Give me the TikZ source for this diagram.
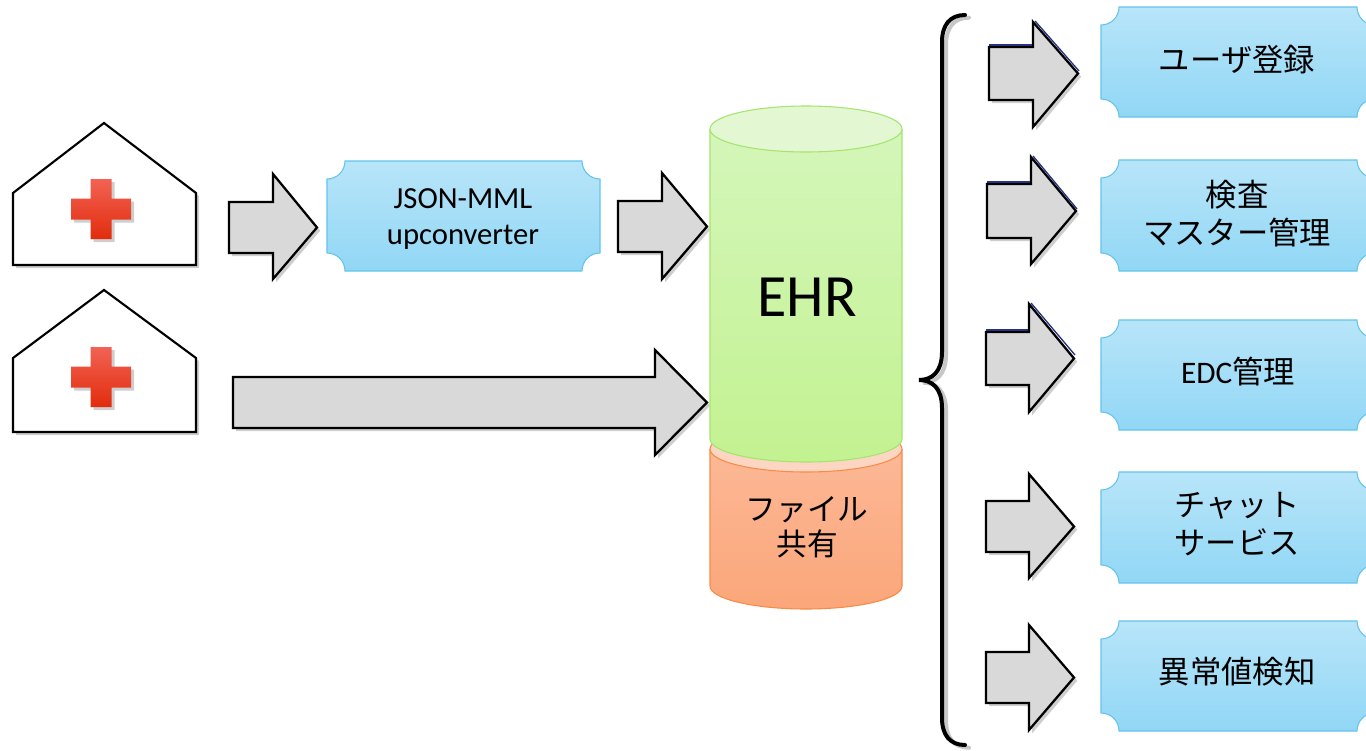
\documentclass[tikz,border=0pt]{standalone}
\usepackage{fontspec}
\setmainfont{Carlito}
\newfontfamily\jp{Noto Sans CJK JP}
\usetikzlibrary{shadows}
\definecolor{arrowgrey}{RGB}{217,217,217}
\definecolor{boxtop}{RGB}{184,229,249}
\definecolor{boxbot}{RGB}{145,215,245}
\definecolor{boxline}{RGB}{100,196,236}
\definecolor{grtop}{RGB}{227,248,210}
\definecolor{grbodyA}{RGB}{212,246,186}
\definecolor{grbodyB}{RGB}{195,242,145}
\definecolor{grline}{RGB}{165,228,110}
\definecolor{ortop}{RGB}{253,214,195}
\definecolor{orbodyA}{RGB}{252,184,150}
\definecolor{orbodyB}{RGB}{251,166,122}
\definecolor{orline}{RGB}{246,140,70}
\definecolor{crossA}{RGB}{242,98,84}
\definecolor{crossB}{RGB}{226,44,12}
\definecolor{navyedge}{RGB}{40,50,130}
\tikzset{
  sh/.style={drop shadow={shadow xshift=2.4pt,shadow yshift=-2.4pt,opacity=0.38}},
  blockarrow/.style={fill=arrowgrey,draw=black,line width=1.7pt,line join=miter,sh},
  house/.style={fill=white,draw=black,line width=1.6pt,line join=miter,sh},
  ticket/.style={top color=boxtop,bottom color=boxbot,draw=boxline,line width=0.8pt},
  jptext/.style={font=\jp\fontsize{23.5}{28.5}\selectfont,align=center,inner sep=0pt},
  navyline/.style={draw=navyedge,line width=1pt},
}
\newcommand\blockarr[7]{\path[blockarrow] (#1,#2) -- (#4,#2) -- (#4,#5) -- (#7,{(#2+#3)/2}) -- (#4,#6) -- (#4,#3) -- (#1,#3) -- cycle;}
\newcommand\ticketbox[4]{\path[ticket] (#1+18,#2) -- (#3-18,#2) .. controls (#3-18,#2+10) and (#3-10,#2+18) .. (#3,#2+18) -- (#3,#4-18) .. controls (#3-10,#4-18) and (#3-18,#4-10) .. (#3-18,#4) -- (#1+18,#4) .. controls (#1+18,#4-10) and (#1+10,#4-18) .. (#1,#4-18) -- (#1,#2+18) .. controls (#1+10,#2+18) and (#1+18,#2+10) .. (#1+18,#2) -- cycle;}
\newcommand\redcross[2]{\path[top color=crossA,bottom color=crossB,sh] (#1-10.5,#2-30) -- (#1+10.5,#2-30) -- (#1+10.5,#2-10.5) -- (#1+30,#2-10.5) -- (#1+30,#2+10.5) -- (#1+10.5,#2+10.5) -- (#1+10.5,#2+30) -- (#1-10.5,#2+30) -- (#1-10.5,#2+10.5) -- (#1-30,#2+10.5) -- (#1-30,#2-10.5) -- (#1-10.5,#2-10.5) -- cycle;}
\begin{document}
\begin{tikzpicture}[x=0.75pt,y=-0.75pt]
\fill[white] (0,0) rectangle (1366,750);
\useasboundingbox (0,0) rectangle (1366,750);
\clip (0,0) rectangle (1366,750);

% hospitals
\path[house] (13,265) -- (13,193) -- (104,123) -- (196,193) -- (196,265) -- cycle;
\redcross{101}{209}
\path[house] (13,432) -- (13,358) -- (104,290) -- (196,358) -- (196,432) -- cycle;
\redcross{101}{377}

% left arrows
\blockarr{229}{202}{253}{273}{174}{279}{317}
\blockarr{618}{201}{252}{662}{173}{279}{707}
\blockarr{233}{377}{428}{655}{350}{455}{707}

% JSON-MML box
\ticketbox{327}{161}{600}{271}
\node[font=\fontsize{23}{27.5}\selectfont,align=center,inner sep=0pt] (json) at (463,219) {JSON-MML\\upconverter};

% file sharing cylinder (behind)
\path[top color=orbodyA,bottom color=orbodyB] (710,449) -- (710,586) .. controls (710,598.7) and (753,609) .. (806,609) .. controls (859,609) and (902,598.7) .. (902,586) -- (902,449) -- cycle;
\draw[orline,line width=0.8pt] (710,449) -- (710,586) .. controls (710,598.7) and (753,609) .. (806,609) .. controls (859,609) and (902,598.7) .. (902,586) -- (902,449);
\path[fill=ortop,draw=orline,line width=0.8pt] (806,449) ellipse [x radius=96, y radius=23];

% EHR cylinder
\path[top color=grbodyA,bottom color=grbodyB] (710,129) -- (710,439) .. controls (710,451.7) and (753,462) .. (806,462) .. controls (859,462) and (902,451.7) .. (902,439) -- (902,129) -- cycle;
\draw[grline,line width=0.8pt] (710,129) -- (710,439) .. controls (710,451.7) and (753,462) .. (806,462) .. controls (859,462) and (902,451.7) .. (902,439) -- (902,129);
\path[fill=grtop,draw=grline,line width=0.8pt] (806,129) ellipse [x radius=96, y radius=23];
\node[font=\fontsize{45}{54}\selectfont,inner sep=0pt] (ehr) at (807,297) {EHR};
\node[font=\jp\fontsize{23}{26}\selectfont,align=center,inner sep=0pt] (file) at (807,527) {ファイル\\共有};

% brace
\draw[black!22,line width=3pt,line cap=round,xshift=3pt,yshift=-2pt] (965,15) .. controls (950,15) and (942,25) .. (942,42) -- (942,352) .. controls (942,372) and (932,380) .. (919,380) .. controls (932,380) and (942,388) .. (942,408) -- (942,718) .. controls (942,735) and (950,745) .. (965,745);
\draw[black,line width=3pt,line cap=round] (965,15) .. controls (950,15) and (942,25) .. (942,42) -- (942,352) .. controls (942,372) and (932,380) .. (919,380) .. controls (932,380) and (942,388) .. (942,408) -- (942,718) .. controls (942,735) and (950,745) .. (965,745);

% right arrows
\blockarr{989}{47}{100}{1033}{22}{127}{1078}
\draw[navyline] (989,45) -- (1032,45);
\draw[navyline] (1035,21) -- (1079,71);
\blockarr{987}{184}{238}{1031}{157}{264}{1076}
\draw[navyline] (987,182) -- (1030,182);
\draw[navyline] (1033,156) -- (1077,209);
\blockarr{986}{332}{385}{1029}{304}{412}{1074}
\draw[navyline] (986,330) -- (1028,330);
\draw[navyline] (1031,303) -- (1075,355);
\blockarr{986}{501}{552}{1029}{474}{578}{1074}
\blockarr{986}{652}{703}{1029}{625}{730}{1074}

% right boxes
\ticketbox{1101}{7}{1375}{117}
\ticketbox{1101}{160}{1375}{271}
\ticketbox{1101}{320}{1375}{430}
\ticketbox{1101}{472}{1375}{583}
\ticketbox{1101}{621}{1375}{731}
\node[jptext] (user) at (1237,60) {ユーザ登録};
\node[jptext] (master) at (1237,214) {検査\\マスター管理};
\node[jptext] (edc) at (1238,372) {{\rmfamily EDC}管理};
\node[jptext] (chat) at (1237,524) {チャット\\サービス};
\node[jptext] (anom) at (1237,672) {異常値検知};
\end{tikzpicture}
\end{document}
